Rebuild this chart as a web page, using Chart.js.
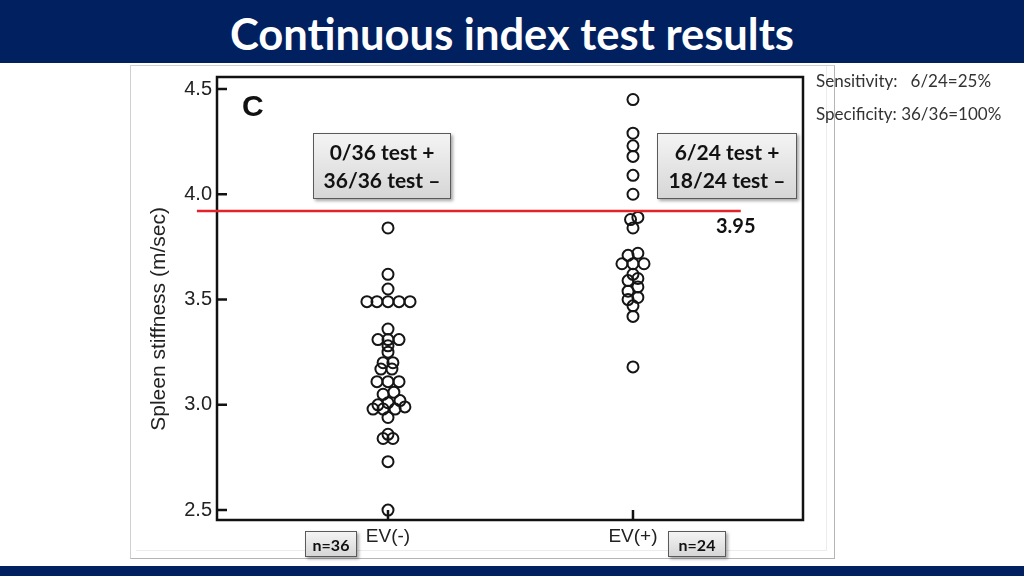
<!DOCTYPE html>
<html>
<head>
<meta charset="utf-8">
<script src="https://cdn.jsdelivr.net/npm/chart.js@4.4.1/dist/chart.umd.min.js"></script>
<style>
  body { margin: 0; width: 1024px; height: 576px; position: relative; background: #fff; overflow: hidden; font-family: Lato, "Open Sans", sans-serif; }
  #topbar { position: absolute; left: 0; top: 0; width: 1024px; height: 63px; background: #002060; }
  #title { position: absolute; left: 0; top: 0; width: 1024px; height: 63px; line-height: 66px; text-align: center; color: #fff; font-weight: bold; font-size: 43.5px; }
  #bottombar { position: absolute; left: 0; top: 566px; width: 1024px; height: 10px; background: #002060; }
  #frame { position: absolute; left: 130px; top: 65px; width: 703px; height: 492px; border: 1px solid #b5b5b5; border-top-color: #d0d0d0; border-left-color: #d0d0d0; }
  #inner { position: absolute; left: 136px; top: 66px; width: 690px; height: 484px; border: 1px solid #ececec; border-top: none; border-left: none; }
  #wrap { position: absolute; left: 131px; top: 60px; width: 703px; height: 498px; }
  .box { position: absolute; box-sizing: border-box; border: 1px solid #5a5a5a; background: linear-gradient(#f4f4f4, #d6d6d6); box-shadow: 2px 2px 3px rgba(0,0,0,0.35); color: #111; font-weight: bold; display: flex; flex-direction: column; align-items: center; justify-content: center; text-align: center; }
  .lbl { position: absolute; color: #111; white-space: nowrap; }
  .note { position: absolute; color: #333; font-size: 17px; white-space: nowrap; }
</style>
</head>
<body>
<div id="topbar"></div>
<div id="title">Continuous index test results</div>
<div id="bottombar"></div>
<div id="frame"></div>
<div id="inner"></div>
<div id="wrap"><canvas id="myChart" width="703" height="498"></canvas></div>

<div class="lbl" style="left:242px;top:91px;font:bold 30px 'Liberation Sans',Arial,sans-serif;line-height:30px;">C</div>
<div class="box" style="left:313px;top:133px;width:138px;height:66px;font-size:21px;line-height:28px;"><div>0/36 test +</div><div>36/36 test –</div></div>
<div class="box" style="left:657px;top:133px;width:140px;height:66px;font-size:21px;line-height:28px;"><div>6/24 test +</div><div>18/24 test –</div></div>
<div class="lbl" style="left:716px;top:213px;font-weight:bold;font-size:20px;line-height:24px;">3.95</div>
<div class="box" style="left:305px;top:531px;width:52px;height:26px;font-size:16px;">n=36</div>
<div class="box" style="left:668px;top:531px;width:58px;height:26px;font-size:16px;">n=24</div>
<div class="note" style="left:816px;top:70px;">Sensitivity:&nbsp;&nbsp; 6/24=25%</div>
<div class="note" style="left:816px;top:103px;">Specificity: 36/36=100%</div>

<script>
// groups on the x axis
var categories = ['EV(-)', 'EV(+)'];

// spleen stiffness, EV(-) group (n=36)
var evNegValues = [3.84, 3.62, 3.55,
  3.49, 3.49, 3.49, 3.49, 3.49,
  3.36, 3.31, 3.31, 3.31, 3.28, 3.25,
  3.20, 3.20, 3.17, 3.17,
  3.11, 3.11, 3.11,
  3.05, 3.06, 3.00, 3.01, 3.02, 2.99,
  2.98, 2.98, 2.98, 2.94,
  2.86, 2.84, 2.84, 2.73, 2.50];
// sideways spread of the dots (category units)
var evNegJitter = [0, 0, 0,
  -0.086, -0.045, 0, 0.045, 0.090,
  0, -0.041, 0, 0.045, 0, 0,
  -0.020, 0.020, -0.029, 0.016,
  -0.045, 0, 0.045,
  -0.020, 0.024, -0.041, 0, 0.049, 0.069,
  -0.061, -0.020, 0.029, 0,
  0, -0.020, 0.020, 0, 0];

// EV(+) group (n=24)
var evPosValues = [4.45, 4.29, 4.23, 4.18, 4.09, 4.00,
  3.89, 3.88, 3.84,
  3.72, 3.71, 3.67, 3.67, 3.67,
  3.62, 3.59, 3.60, 3.56, 3.54, 3.50, 3.51,
  3.47, 3.42, 3.18];
var evPosJitter = [0, 0, 0, 0, 0, 0,
  0.020, -0.010, 0,
  0.020, -0.020, -0.045, 0, 0.045,
  0, -0.020, 0.020, 0.020, -0.020, -0.020, 0.020,
  0, 0, 0];

// cut-off line
var cutoffValue = 3.92;
var cutoffFrom = 0.22;
var cutoffTo = 2.44;

var yTicks = [2.5, 3.0, 3.5, 4.0, 4.5];

function toPoints(values, jitter, cat) {
  var pts = [];
  for (var i = 0; i < values.length; i++) {
    pts.push({ x: cat + jitter[i], y: values[i] });
  }
  return pts;
}

// box round the plot and short ticks pointing inwards
var frameTicks = {
  id: 'frameTicks',
  beforeDatasetsDraw: function (chart) {
    var c = chart.ctx, a = chart.chartArea;
    var xs = chart.scales.x, ys = chart.scales.y;
    c.save();
    c.strokeStyle = '#111';
    c.lineWidth = 2.5;
    c.strokeRect(a.left, a.top, a.right - a.left, a.bottom - a.top);
    c.beginPath();
    ys.ticks.forEach(function (t) {
      var py = ys.getPixelForValue(t.value);
      c.moveTo(a.left, py); c.lineTo(a.left + 10, py);
    });
    xs.ticks.forEach(function (t) {
      var px = xs.getPixelForValue(t.value);
      c.moveTo(px, a.bottom); c.lineTo(px, a.bottom - 10);
    });
    c.stroke();
    c.restore();
  }
};

var ctx = document.getElementById('myChart');
var myChart = new Chart(ctx, {
  type: 'scatter',
  data: {
    datasets: [
      {
        type: 'line',
        data: [{ x: cutoffFrom, y: cutoffValue }, { x: cutoffTo, y: cutoffValue }],
        borderColor: '#e3222b',
        borderWidth: 2.5,
        pointRadius: 0,
        clip: false,
        order: 0
      },
      {
        label: categories[0],
        data: toPoints(evNegValues, evNegJitter, 1),
        pointRadius: 5.5,
        pointBorderWidth: 2,
        pointBorderColor: '#151515',
        pointBackgroundColor: 'rgba(0,0,0,0)',
        clip: false,
        order: 1
      },
      {
        label: categories[1],
        data: toPoints(evPosValues, evPosJitter, 2),
        pointRadius: 5.5,
        pointBorderWidth: 2,
        pointBorderColor: '#151515',
        pointBackgroundColor: 'rgba(0,0,0,0)',
        clip: false,
        order: 1
      }
    ]
  },
  options: {
    responsive: false,
    animation: false,
    devicePixelRatio: 1,
    layout: { padding: { left: 0, top: 0, right: 31, bottom: 0 } },
    plugins: { legend: { display: false }, tooltip: { enabled: false } },
    scales: {
      x: {
        type: 'linear',
        min: 0.302,
        max: 2.694,
        afterBuildTicks: function (s) { s.ticks = categories.map(function (c, i) { return { value: i + 1 }; }); },
        afterFit: function (s) { s.height = 38; },
        grid: { display: false, drawTicks: false },
        border: { display: false },
        ticks: {
          autoSkip: false, maxRotation: 0, padding: 5, color: '#222',
          font: { family: 'Liberation Sans', size: 19 },
          callback: function (v) { return categories[v - 1]; }
        }
      },
      y: {
        min: 2.453,
        max: 4.557,
        afterBuildTicks: function (s) { s.ticks = yTicks.map(function (v) { return { value: v }; }); },
        afterFit: function (s) { s.width = 86; },
        grid: { display: false, drawTicks: false },
        border: { display: false },
        ticks: {
          padding: 5, color: '#222',
          font: { family: 'Liberation Sans', size: 20 },
          callback: function (v) { return v.toFixed(1); }
        },
        title: {
          display: true,
          text: 'Spleen stiffness (m/sec)\u00a0\u00a0\u00a0\u00a0\u00a0\u00a0\u00a0',
          color: '#222',
          font: { family: 'Liberation Sans', size: 21 },
          padding: { top: 16, bottom: 0 }
        }
      }
    }
  },
  plugins: [frameTicks]
});
</script>
</body>
</html>
